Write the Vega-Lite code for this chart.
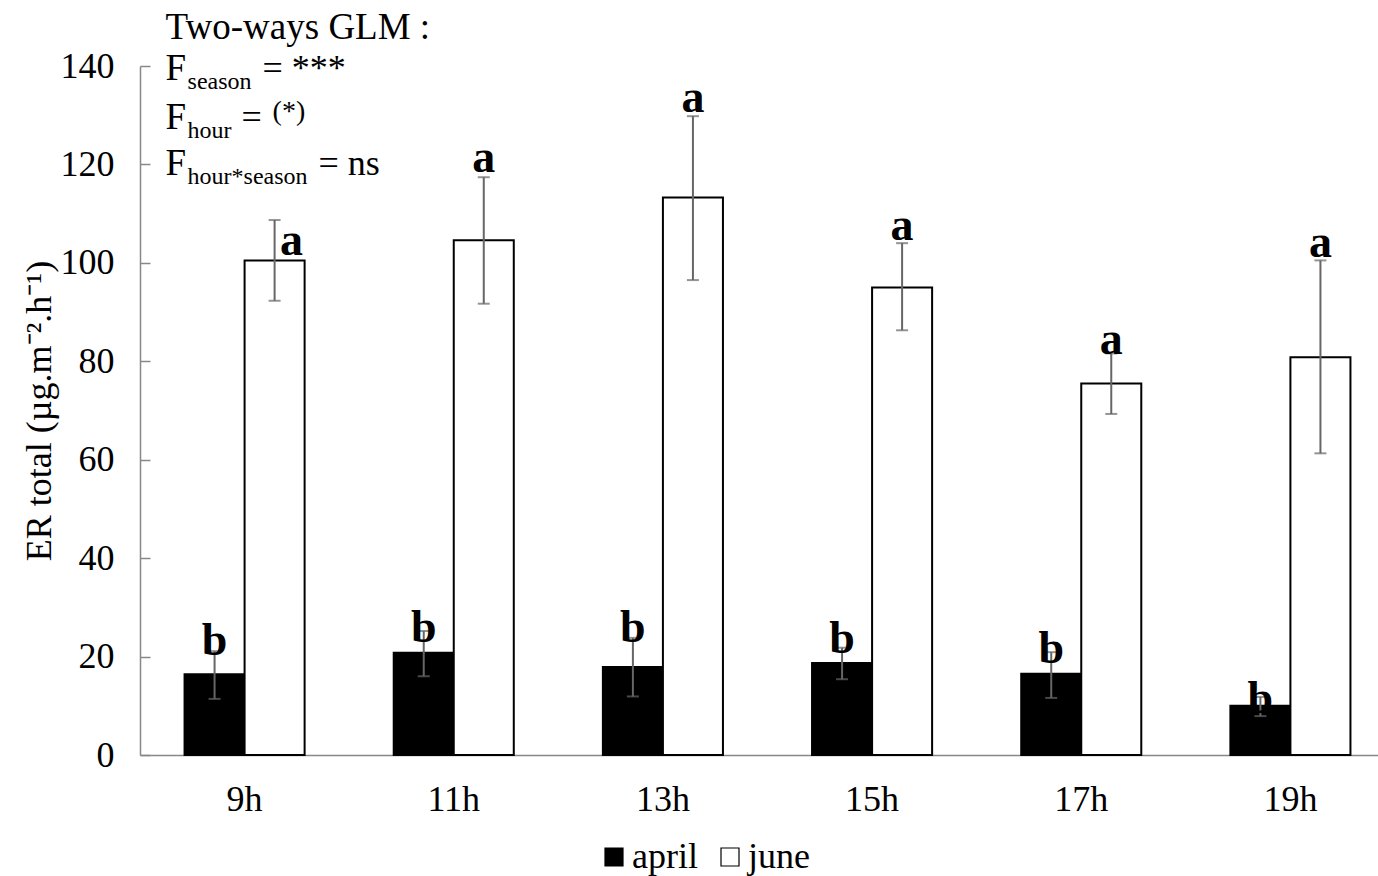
{
  "$schema": "https://vega.github.io/schema/vega-lite/v6.json",
  "autosize": {"type": "none"},
  "padding": {"left": 140, "top": 66, "right": 0, "bottom": 121},
  "width": 1255,
  "height": 689,
  "background": "white",
  "config": {
    "view": {"stroke": null},
    "font": "Liberation Serif",
    "axis": {"labelFont": "Liberation Serif", "titleFont": "Liberation Serif", "labelColor": "black", "titleColor": "black", "domainColor": "#888888", "tickColor": "#888888", "domainWidth": 1.5, "tickWidth": 1.5, "grid": false, "labelFontSize": 36, "titleFontSize": 36, "titleFontWeight": "normal"},
    "legend": {"labelFont": "Liberation Serif", "labelFontSize": 36, "labelColor": "black"},
    "text": {"font": "Liberation Serif", "color": "black"}
  },
  "datasets": {
    "bars": [
      {"hour": "9h", "season": "april", "value": 16.4, "lo": 11.4, "hi": 21.1, "letter": "b", "letterY": 20.3},
      {"hour": "9h", "season": "june", "value": 100.5, "lo": 92.3, "hi": 108.7, "letter": "a", "letterY": 101.5},
      {"hour": "11h", "season": "april", "value": 20.8, "lo": 16.0, "hi": 25.2, "letter": "b", "letterY": 22.9},
      {"hour": "11h", "season": "june", "value": 104.6, "lo": 91.7, "hi": 117.4, "letter": "a", "letterY": 118.4},
      {"hour": "13h", "season": "april", "value": 17.9, "lo": 11.9, "hi": 23.8, "letter": "b", "letterY": 22.9},
      {"hour": "13h", "season": "june", "value": 113.3, "lo": 96.5, "hi": 129.8, "letter": "a", "letterY": 130.6},
      {"hour": "15h", "season": "april", "value": 18.7, "lo": 15.4, "hi": 21.8, "letter": "b", "letterY": 20.7},
      {"hour": "15h", "season": "june", "value": 95.0, "lo": 86.3, "hi": 104.0, "letter": "a", "letterY": 104.6},
      {"hour": "17h", "season": "april", "value": 16.5, "lo": 11.6, "hi": 20.9, "letter": "b", "letterY": 18.7},
      {"hour": "17h", "season": "june", "value": 75.5, "lo": 69.3, "hi": 81.6, "letter": "a", "letterY": 81.4},
      {"hour": "19h", "season": "april", "value": 10.0, "lo": 7.9, "hi": 11.8, "letter": "b", "letterY": 8.5},
      {"hour": "19h", "season": "june", "value": 80.8, "lo": 61.3, "hi": 100.5, "letter": "a", "letterY": 101.1}
    ],
    "notes": [
      {"hour": "9h", "part": "title", "y": 145.5, "text": "Two-ways GLM :"},
      {"hour": "9h", "part": "F", "y": 137.1, "text": "F"},
      {"hour": "9h", "part": "F", "y": 127.3, "text": "F"},
      {"hour": "9h", "part": "F", "y": 117.8, "text": "F"},
      {"hour": "9h", "part": "sub", "y": 137.1, "text": "season"},
      {"hour": "9h", "part": "sub", "y": 127.3, "text": "hour"},
      {"hour": "9h", "part": "sub", "y": 117.8, "text": "hour*season"},
      {"hour": "9h", "part": "eq1", "y": 137.1, "text": "= ***"},
      {"hour": "9h", "part": "eq2", "y": 127.3, "text": "="},
      {"hour": "9h", "part": "paren", "y": 127.3, "text": "(*)"},
      {"hour": "9h", "part": "eq3", "y": 117.8, "text": "= ns"}
    ]
  },
  "layer": [
    {
      "data": {"name": "bars"},
      "mark": {"type": "bar", "stroke": "black", "strokeWidth": 2},
      "encoding": {
        "x": {"field": "hour", "type": "nominal", "sort": ["9h", "11h", "13h", "15h", "17h", "19h"],
              "scale": {"domain": ["9h", "11h", "13h", "15h", "17h", "19h"], "paddingInner": 0.426, "paddingOuter": 0.213},
              "axis": {"title": null, "ticks": false, "labelPadding": 27, "labelAngle": 0}},
        "xOffset": {"field": "season", "type": "nominal", "scale": {"domain": ["april", "june"], "paddingInner": 0, "paddingOuter": 0}},
        "y": {"field": "value", "type": "quantitative", "scale": {"domain": [0, 140], "nice": false},
              "axis": {"title": "ER total (µg.m⁻².h⁻¹)", "values": [0, 20, 40, 60, 80, 100, 120, 140], "tickSize": -10, "labelPadding": 36, "titlePadding": 2}},
        "color": {"field": "season", "type": "nominal", "scale": {"domain": ["april", "june"], "range": ["black", "white"]},
                  "legend": {"orient": "none", "legendX": 456, "legendY": 773, "direction": "horizontal", "title": null, "symbolType": "square", "symbolSize": 324, "symbolStrokeColor": "black", "symbolStrokeWidth": 1.2, "labelOffset": 0, "columnPadding": 14, "padding": 0}}
      }
    },
    {
      "data": {"name": "bars"},
      "mark": {"type": "rule", "color": "#666666", "strokeWidth": 2},
      "encoding": {
        "x": {"field": "hour", "type": "nominal"},
        "xOffset": {"field": "season", "type": "nominal"},
        "y": {"field": "lo", "type": "quantitative"},
        "y2": {"field": "hi"}
      }
    },
    {
      "data": {"name": "bars"},
      "mark": {"type": "tick", "color": "#666666", "thickness": 2, "size": 12, "orient": "horizontal"},
      "encoding": {
        "x": {"field": "hour", "type": "nominal"},
        "xOffset": {"field": "season", "type": "nominal"},
        "y": {"field": "lo", "type": "quantitative"}
      }
    },
    {
      "data": {"name": "bars"},
      "mark": {"type": "tick", "color": "#666666", "thickness": 2, "size": 12, "orient": "horizontal"},
      "encoding": {
        "x": {"field": "hour", "type": "nominal"},
        "xOffset": {"field": "season", "type": "nominal"},
        "y": {"field": "hi", "type": "quantitative"}
      }
    },
    {
      "data": {"name": "bars"},
      "transform": [{"filter": "!(datum.hour === '9h' && datum.season === 'june')"}],
      "mark": {"type": "text", "fontSize": 46, "fontWeight": "bold", "baseline": "alphabetic", "align": "center"},
      "encoding": {
        "x": {"field": "hour", "type": "nominal"},
        "xOffset": {"field": "season", "type": "nominal"},
        "y": {"field": "letterY", "type": "quantitative"},
        "text": {"field": "letter"}
      }
    },
    {
      "data": {"name": "bars"},
      "transform": [{"filter": "datum.hour === '9h' && datum.season === 'june'"}],
      "mark": {"type": "text", "fontSize": 46, "fontWeight": "bold", "baseline": "alphabetic", "align": "center", "dx": 17},
      "encoding": {
        "x": {"field": "hour", "type": "nominal"},
        "xOffset": {"field": "season", "type": "nominal"},
        "y": {"field": "letterY", "type": "quantitative"},
        "text": {"field": "letter"}
      }
    },
    {
      "data": {"name": "notes"},
      "transform": [{"filter": "datum.part === 'title' || datum.part === 'F'"}],
      "mark": {"type": "text", "fontSize": 37, "baseline": "alphabetic", "align": "left", "dx": -19},
      "encoding": {
        "x": {"field": "hour", "type": "nominal", "bandPosition": 0},
        "y": {"field": "y", "type": "quantitative"},
        "text": {"field": "text"}
      }
    },
    {
      "data": {"name": "notes"},
      "transform": [{"filter": "datum.part === 'sub'"}],
      "mark": {"type": "text", "fontSize": 24, "baseline": "alphabetic", "align": "left", "dx": 3, "dy": 9},
      "encoding": {
        "x": {"field": "hour", "type": "nominal", "bandPosition": 0},
        "y": {"field": "y", "type": "quantitative"},
        "text": {"field": "text"}
      }
    },
    {
      "data": {"name": "notes"},
      "transform": [{"filter": "datum.part === 'eq1'"}],
      "mark": {"type": "text", "fontSize": 36, "baseline": "alphabetic", "align": "left", "dx": 78},
      "encoding": {
        "x": {"field": "hour", "type": "nominal", "bandPosition": 0},
        "y": {"field": "y", "type": "quantitative"},
        "text": {"field": "text"}
      }
    },
    {
      "data": {"name": "notes"},
      "transform": [{"filter": "datum.part === 'eq2'"}],
      "mark": {"type": "text", "fontSize": 36, "baseline": "alphabetic", "align": "left", "dx": 57},
      "encoding": {
        "x": {"field": "hour", "type": "nominal", "bandPosition": 0},
        "y": {"field": "y", "type": "quantitative"},
        "text": {"field": "text"}
      }
    },
    {
      "data": {"name": "notes"},
      "transform": [{"filter": "datum.part === 'paren'"}],
      "mark": {"type": "text", "fontSize": 28, "baseline": "alphabetic", "align": "left", "dx": 88, "dy": -9},
      "encoding": {
        "x": {"field": "hour", "type": "nominal", "bandPosition": 0},
        "y": {"field": "y", "type": "quantitative"},
        "text": {"field": "text"}
      }
    },
    {
      "data": {"name": "notes"},
      "transform": [{"filter": "datum.part === 'eq3'"}],
      "mark": {"type": "text", "fontSize": 36, "baseline": "alphabetic", "align": "left", "dx": 134},
      "encoding": {
        "x": {"field": "hour", "type": "nominal", "bandPosition": 0},
        "y": {"field": "y", "type": "quantitative"},
        "text": {"field": "text"}
      }
    }
  ]
}
